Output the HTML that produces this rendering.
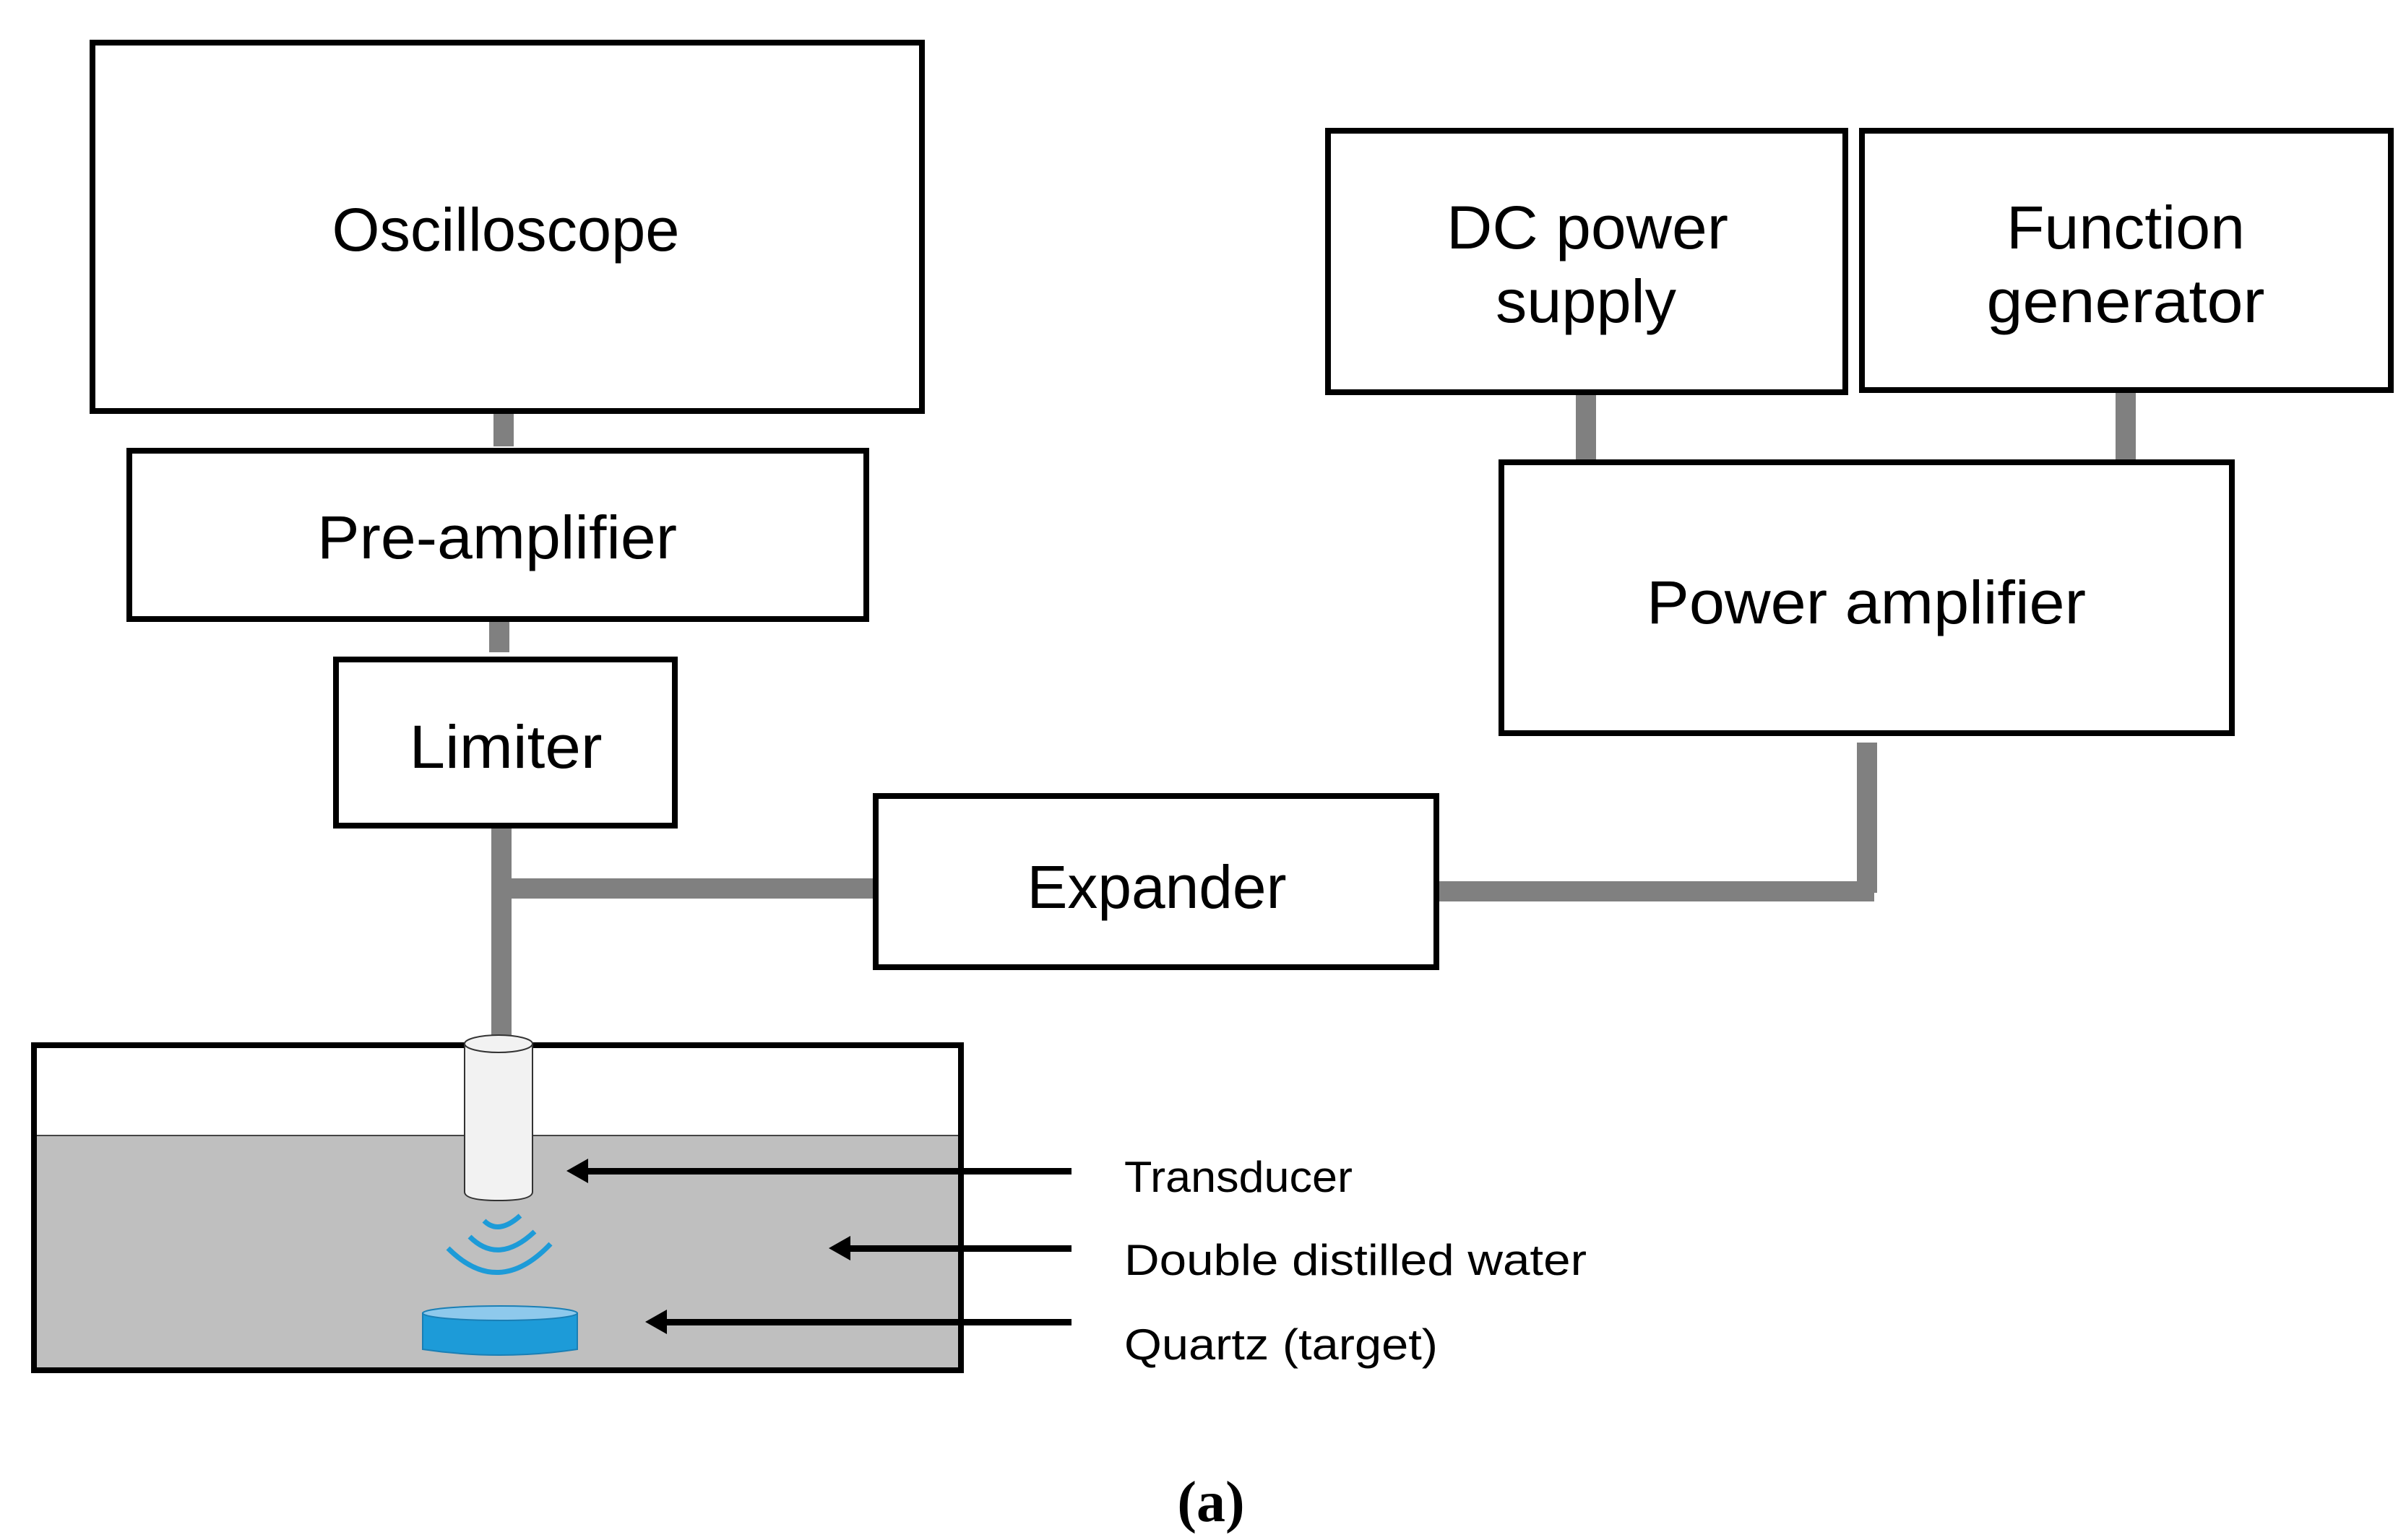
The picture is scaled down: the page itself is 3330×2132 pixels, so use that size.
<!DOCTYPE html>
<html><head><meta charset="utf-8"><style>html,body{margin:0;padding:0;background:#fff}svg{display:block}</style></head>
<body>
<svg width="3330" height="2132" viewBox="0 0 3330 2132" xmlns="http://www.w3.org/2000/svg">
<g fill="#808080">
<rect x="683" y="572" width="28" height="46"/>
<rect x="677" y="857" width="28" height="46"/>
<rect x="680" y="1141" width="28" height="300"/>
<rect x="694" y="1216" width="518" height="28"/>
<rect x="2181" y="544" width="28" height="96"/>
<rect x="2928" y="540" width="28" height="98"/>
<rect x="2570" y="1028" width="28" height="208"/>
<rect x="1987" y="1220" width="607" height="28"/>
</g>
<g fill="#fff" stroke="#000" stroke-width="8">
<rect x="128" y="59" width="1148" height="510"/>
<rect x="179" y="624" width="1020" height="233"/>
<rect x="465" y="913" width="469" height="230"/>
<rect x="1212" y="1102" width="776" height="237"/>
<rect x="1838" y="181" width="716" height="362"/>
<rect x="2577" y="181" width="732" height="359"/>
<rect x="2078" y="640" width="1011" height="375"/>
</g>
<g font-family="Liberation Sans, sans-serif" font-size="84" fill="#000" text-anchor="middle">
<text x="700" y="347" textLength="481" lengthAdjust="spacingAndGlyphs">Oscilloscope</text>
<text x="688" y="773" textLength="498" lengthAdjust="spacingAndGlyphs">Pre-amplifier</text>
<text x="700" y="1063" textLength="267" lengthAdjust="spacingAndGlyphs">Limiter</text>
<text x="1601" y="1257" textLength="359" lengthAdjust="spacingAndGlyphs">Expander</text>
<text x="2583" y="863" textLength="608" lengthAdjust="spacingAndGlyphs">Power amplifier</text>
<text x="2197" y="344" textLength="390" lengthAdjust="spacingAndGlyphs">DC power</text>
<text x="2195" y="446" textLength="250" lengthAdjust="spacingAndGlyphs">supply</text>
<text x="2942" y="344" textLength="330" lengthAdjust="spacingAndGlyphs">Function</text>
<text x="2942" y="446" textLength="385" lengthAdjust="spacingAndGlyphs">generator</text>
</g>
<rect x="47" y="1572" width="1283" height="325" fill="#bfbfbf"/>
<line x1="47" y1="1572" x2="1330" y2="1572" stroke="#444" stroke-width="2"/>
<rect x="47" y="1447" width="1283" height="450" fill="none" stroke="#000" stroke-width="8"/>
<path d="M643 1445 L643 1650 Q643 1662 690 1662 Q737 1662 737 1650 L737 1445 Z" fill="#f2f2f2" stroke="#333" stroke-width="2"/>
<ellipse cx="690" cy="1445" rx="47" ry="12" fill="#f2f2f2" stroke="#333" stroke-width="2"/>
<g fill="none" stroke="#1d9bd8" stroke-width="7">
<path d="M670 1690 Q690 1710 720 1683"/>
<path d="M650 1712 Q690 1752 740 1705"/>
<path d="M620 1728 Q690 1798 762 1722"/>
</g>
<path d="M585 1818 L585 1868 Q692 1884 799 1868 L799 1818 Z" fill="#1d9bd8" stroke="#1a7fb5" stroke-width="2"/>
<ellipse cx="692" cy="1818" rx="107" ry="10" fill="#8ec9ec" stroke="#1a7fb5" stroke-width="2"/>
<g fill="#000">
<rect x="800" y="1617" width="683" height="9"/>
<path d="M784 1621 L814 1604 L814 1638 Z"/>
<rect x="1160" y="1724" width="323" height="9"/>
<path d="M1147 1728 L1177 1711 L1177 1745 Z"/>
<rect x="910" y="1826" width="573" height="9"/>
<path d="M893 1830 L923 1813 L923 1847 Z"/>
</g>
<g font-family="Liberation Sans, sans-serif" font-size="60" fill="#000">
<text x="1556" y="1650" textLength="316" lengthAdjust="spacingAndGlyphs">Transducer</text>
<text x="1556" y="1765" textLength="640" lengthAdjust="spacingAndGlyphs">Double distilled water</text>
<text x="1556" y="1882" textLength="434" lengthAdjust="spacingAndGlyphs">Quartz (target)</text>
</g>
<text x="1676" y="2106" font-family="Liberation Serif, serif" font-weight="bold" font-size="80" text-anchor="middle">(a)</text>
</svg>
</body></html>
